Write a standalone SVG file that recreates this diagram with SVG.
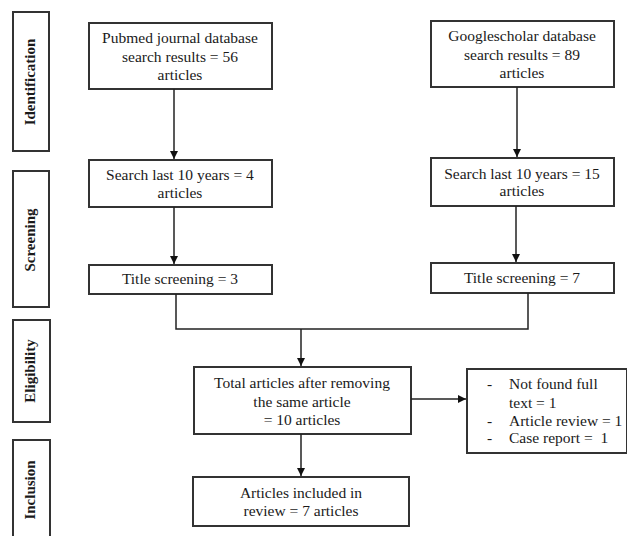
<svg xmlns="http://www.w3.org/2000/svg" width="627" height="536" viewBox="0 0 627 536">
<defs>
<marker id="ah" viewBox="0 0 10 10" refX="10" refY="5" markerWidth="8" markerHeight="8" markerUnits="userSpaceOnUse" orient="auto">
<path d="M0,0 L10,5 L0,10 z" fill="#111"/>
</marker>
<style>
.box{fill:#fff;stroke:#333;stroke-width:2}
.t{font-family:"Liberation Serif","Times New Roman",serif;font-size:15.5px;fill:#1a1a1a;text-anchor:middle}
.tl{font-family:"Liberation Serif","Times New Roman",serif;font-size:15.5px;fill:#1a1a1a}
.side{font-family:"Liberation Serif","Times New Roman",serif;font-size:15px;font-weight:bold;fill:#1a1a1a;text-anchor:middle}
.c{fill:none;stroke:#222;stroke-width:1.5}
</style>
</defs>
<rect width="627" height="536" fill="#fff"/>
<g id="stage-identification"><rect class="box" x="13" y="12" width="36" height="139"/><text class="side" transform="translate(35,82) rotate(-90)">Identification</text></g>
<g id="stage-screening"><rect class="box" x="13" y="171" width="36" height="136"/><text class="side" transform="translate(35,240) rotate(-90)">Screening</text></g>
<g id="stage-eligibility"><rect class="box" x="13" y="320" width="37" height="102"/><text class="side" transform="translate(35,371) rotate(-90)">Eligibility</text></g>
<g id="stage-inclusion"><rect class="box" x="13" y="440" width="37" height="100"/><text class="side" transform="translate(35,490) rotate(-90)">Inclusion</text></g>
<g id="pubmed"><rect class="box" x="89" y="23" width="183" height="66"/><text class="t" x="180" y="43">Pubmed journal database</text><text class="t" x="180" y="62">search results = 56</text><text class="t" x="180" y="80">articles</text></g>
<g id="google"><rect class="box" x="431" y="21" width="183" height="66"/><text class="t" x="522" y="41">Googlescholar database</text><text class="t" x="522" y="60">search results = 89</text><text class="t" x="522" y="78">articles</text></g>
<g id="pubmed-10y"><rect class="box" x="89" y="160" width="183" height="47"/><text class="t" x="180" y="180">Search last 10 years = 4</text><text class="t" x="180" y="198">articles</text></g>
<g id="google-10y"><rect class="box" x="431" y="158" width="183" height="48"/><text class="t" x="522" y="179">Search last 10 years = 15</text><text class="t" x="522" y="196">articles</text></g>
<g id="pubmed-title"><rect class="box" x="89" y="265" width="183" height="29"/><text class="t" x="180" y="284">Title screening = 3</text></g>
<g id="google-title"><rect class="box" x="431" y="263" width="183" height="30"/><text class="t" x="522" y="283">Title screening = 7</text></g>
<g id="total"><rect class="box" x="194" y="367" width="217" height="67"/><text class="t" x="302" y="388">Total articles after removing</text><text class="t" x="302" y="407">the same article</text><text class="t" x="302" y="425">= 10 articles</text></g>
<g id="excluded"><rect class="box" x="467" y="369" width="160" height="84"/><text class="tl" x="487" y="389">-</text><text class="tl" x="509" y="389">Not found full</text><text class="tl" x="509" y="408">text = 1</text><text class="tl" x="487" y="426">-</text><text class="tl" x="509" y="426">Article review = 1</text><text class="tl" x="487" y="443">-</text><text class="tl" x="509" y="443" xml:space="preserve">Case report =  1</text></g>
<g id="included"><rect class="box" x="193" y="477" width="216" height="49"/><text class="t" x="301" y="498">Articles included in</text><text class="t" x="301" y="516">review = 7 articles</text></g>
<g id="connectors">
<line class="c" x1="174" y1="89" x2="174" y2="159" marker-end="url(#ah)"/>
<line class="c" x1="517" y1="87" x2="517" y2="157" marker-end="url(#ah)"/>
<line class="c" x1="174" y1="207" x2="174" y2="264" marker-end="url(#ah)"/>
<line class="c" x1="516" y1="206" x2="516" y2="262" marker-end="url(#ah)"/>
<polyline class="c" points="176,294 176,329 528,329 528,293"/>
<line class="c" x1="301" y1="329" x2="301" y2="366" marker-end="url(#ah)"/>
<line class="c" x1="411" y1="399" x2="466" y2="399" marker-end="url(#ah)"/>
<line class="c" x1="301" y1="434" x2="301" y2="476" marker-end="url(#ah)"/>
</g>
</svg>
